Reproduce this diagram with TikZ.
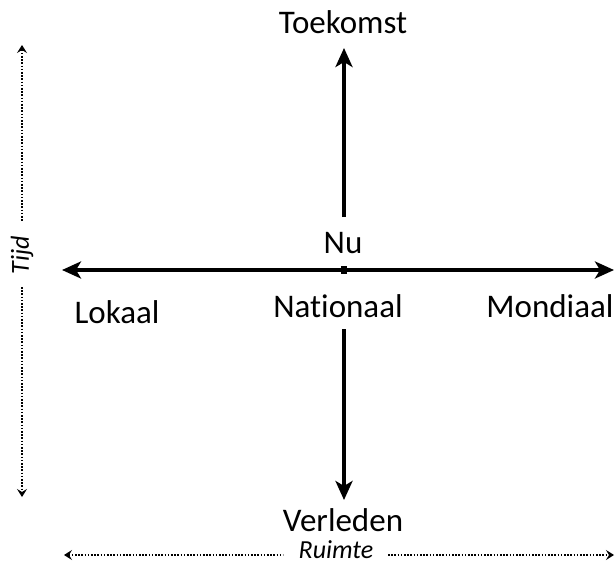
\documentclass[tikz,border=0pt]{standalone}
\usepackage{fontspec}
\setmainfont[Ligatures={NoCommon}]{Carlito}
\usetikzlibrary{arrows.meta}
\begin{document}
\begin{tikzpicture}[x=1pt,y=-1pt,
  lbl/.style={font=\fontsize{33}{38}\selectfont, inner sep=0pt},
  axlbl/.style={font=\fontsize{26}{30}\selectfont\itshape, inner sep=0pt},
  mainarrow/.style={line width=3.5pt, -{Stealth[length=19pt,width=17pt,inset=5pt]}},
  dotline/.style={line width=2.2pt, dash pattern=on 1.6pt off 1.6pt}]
\useasboundingbox (0,0) rectangle (615,567);
% nodes
\node[lbl] (toekomst) at (343,22) {Toekomst};
\node[lbl] (nu) at (343,243) {Nu};
\node[lbl] (lokaal) at (117,312) {Lokaal};
\node[lbl] (nationaal) at (338,306) {Nationaal};
\node[lbl] (mondiaal) at (550,306) {Mondiaal};
\node[lbl] (verleden) at (343,520) {Verleden};
\node[axlbl, rotate=90] (tijd) at (22,255) {Tijd};
\node[axlbl] (ruimte) at (336,550) {Ruimte};
\coordinate (left) at (62,270);
\coordinate (right) at (614,270);
\coordinate (upS) at (344,217);
\coordinate (upE) at (344,48);
\coordinate (dnS) at (344,329);
\coordinate (dnE) at (344,500);
% main axes
\draw[line width=3.5pt, {Stealth[length=19pt,width=17pt,inset=5pt]}-{Stealth[length=19pt,width=17pt,inset=5pt]}] (left) -- (right);
\fill (341,266) rectangle (347,274);
\draw[mainarrow] (upS) -- (upE);
\draw[mainarrow] (dnS) -- (dnE);
% dotted axes
\coordinate (tT) at (22,45);
\coordinate (tTg) at (22,222);
\coordinate (tBg) at (22,287);
\coordinate (tB) at (22,497);
\coordinate (rL) at (64,555);
\coordinate (rLg) at (283,555);
\coordinate (rRg) at (388,555);
\coordinate (rR) at (614,555);
\draw[dotline, {Stealth[length=8pt,width=10pt,inset=3pt]}-] (tT) -- (tTg);
\draw[dotline, -{Stealth[length=8pt,width=10pt,inset=3pt]}] (tBg) -- (tB);
\draw[dotline, {Stealth[length=8pt,width=10pt,inset=3pt]}-] (rL) -- (rLg);
\draw[dotline, -{Stealth[length=8pt,width=10pt,inset=3pt]}] (rRg) -- (rR);
\end{tikzpicture}
\end{document}
